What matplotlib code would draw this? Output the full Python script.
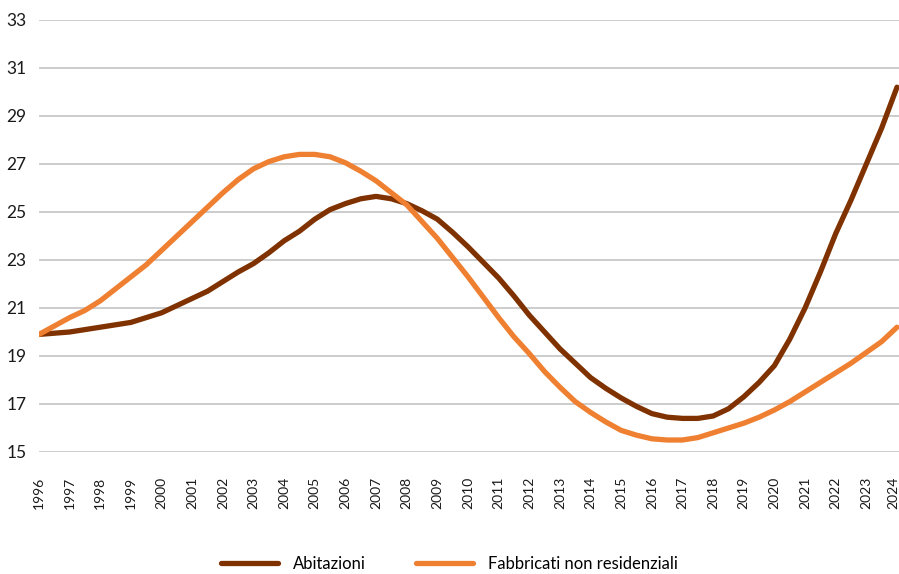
import matplotlib.pyplot as plt
import matplotlib.transforms as mtransforms

anni = list(range(1996, 2025))

# valori semestrali
tempo = [1996 + 0.5 * i for i in range(57)]

abitazioni = [19.9, 19.95, 20.0, 20.1, 20.2, 20.3, 20.4, 20.6, 20.8, 21.1,
              21.4, 21.7, 22.1, 22.5, 22.85, 23.3, 23.8, 24.2, 24.7, 25.1,
              25.35, 25.55, 25.65, 25.55, 25.35, 25.05, 24.7, 24.15, 23.55, 22.9,
              22.25, 21.5, 20.7, 20.0, 19.3, 18.7, 18.1, 17.65, 17.25, 16.9,
              16.6, 16.45, 16.4, 16.4, 16.5, 16.8, 17.3, 17.9, 18.6, 19.7,
              21.0, 22.5, 24.1, 25.5, 27.0, 28.5, 30.2]

non_residenziali = [19.9, 20.25, 20.6, 20.9, 21.3, 21.8, 22.3, 22.8, 23.4, 24.0,
                    24.6, 25.2, 25.8, 26.35, 26.8, 27.1, 27.3, 27.4, 27.4, 27.3,
                    27.05, 26.7, 26.3, 25.8, 25.3, 24.6, 23.9, 23.1, 22.3, 21.45,
                    20.6, 19.8, 19.1, 18.35, 17.7, 17.1, 16.65, 16.25, 15.9, 15.7,
                    15.55, 15.5, 15.5, 15.6, 15.8, 16.0, 16.2, 16.45, 16.75, 17.1,
                    17.5, 17.9, 18.3, 18.7, 19.15, 19.6, 20.2]

etichette = ["Abitazioni", "Fabbricati non residenziali"]
colori = ["#7F3200", "#EF8031"]

plt.rcParams["font.family"] = ["Lato", "DejaVu Sans"]

fig = plt.figure(figsize=(8.99, 5.74), dpi=100)
ax = fig.add_axes([39 / 899, 1 - 452 / 574, 860 / 899, 432 / 574])

ax.plot(tempo, abitazioni, color=colori[0], linewidth=3.8,
        solid_capstyle="round", solid_joinstyle="round",
        label=etichette[0], zorder=3)
ax.plot(tempo, non_residenziali, color=colori[1], linewidth=3.8,
        solid_capstyle="round", solid_joinstyle="round",
        label=etichette[1], zorder=3)

ax.set_xlim(1996, 2024 + 2 / 30.64)
ax.set_ylim(15, 33)
ax.set_yticks(range(15, 34, 2))
ax.set_xticks(anni)
ax.set_xticklabels([str(a) for a in anni], rotation=90, fontsize=10,
                   color="#1a1a1a")
ax.tick_params(axis="y", length=0, pad=9, labelsize=12.5, labelcolor="#1a1a1a")
ax.tick_params(axis="x", length=0, pad=18)
ax.grid(axis="y", color="#c8c8c8", linewidth=1.3, zorder=0)
ax.set_axisbelow(True)
for s in ax.spines.values():
    s.set_visible(False)

# l'ultima etichetta leggermente a sinistra per restare nel bordo
ultima = ax.get_xticklabels()[-1]
ultima.set_transform(ultima.get_transform() +
                     mtransforms.ScaledTranslation(-4 / 100, 0, fig.dpi_scale_trans))

fig.legend(loc="center", bbox_to_anchor=(0.5, 0.018), ncol=2, frameon=False,
           fontsize=12, handlelength=3.4, handletextpad=0.9,
           columnspacing=3.0)

fig.savefig("out.png", dpi=100)
plt.close(fig)
